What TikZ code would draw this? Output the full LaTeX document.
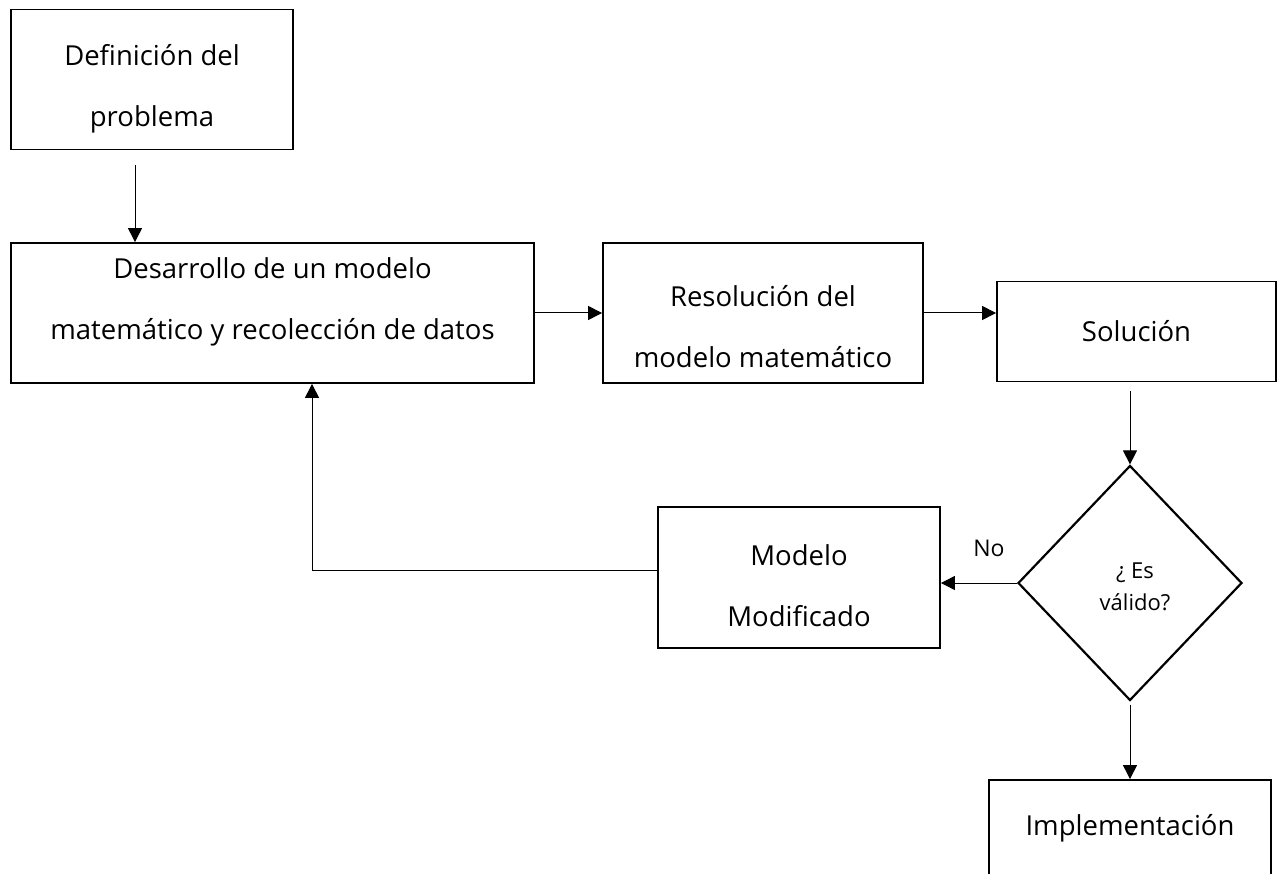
\documentclass[tikz,border=0pt]{standalone}
\usepackage{fontspec}
\setmainfont{Open Sans}
\usetikzlibrary{arrows.meta,shapes.geometric}
\begin{document}
\begin{tikzpicture}[x=1pt,y=-1pt,
  box/.style={draw,line width=1.8pt,inner sep=0pt},
  txt/.style={inner sep=0pt,align=center,font=\fontsize{27.5}{61}\selectfont},
  decision/.style={draw,diamond,line width=2.2pt,inner sep=0pt,
    minimum width=224pt,minimum height=235pt},
  dtxt/.style={inner sep=0pt,align=center,font=\fontsize{22}{32}\selectfont},
  arr/.style={line width=1pt,-{Triangle[length=14pt,width=14pt]}},
  lbl/.style={inner sep=0pt,font=\fontsize{23}{26}\selectfont}]
\useasboundingbox (0,0) rectangle (1278,874);

% process boxes
\node[box,minimum width=282pt,minimum height=140pt] (def) at (152,79.5) {};
\node[box,minimum width=523pt,minimum height=140pt] (des) at (272.5,313) {};
\node[box,minimum width=320pt,minimum height=140pt] (res) at (763,313) {};
\node[box,minimum width=279pt,minimum height=100pt] (sol) at (1136.5,331.5) {};
\node[decision] (val) at (1130,583) {};
\node[box,minimum width=282pt,minimum height=141pt] (mod) at (799,577.5) {};
\node[box,minimum width=282pt,minimum height=140pt] (imp) at (1130,850) {};

% box texts
\node[txt] (def-t) at ([yshift=-9pt]def.center) {Definición del\\problema};
\node[txt] (des-t) at ([yshift=11pt]des.center) {Desarrollo de un modelo\\matemático y recolección de datos};
\node[txt] (res-t) at ([yshift=-14pt]res.center) {Resolución del\\modelo matemático};
\node[txt] (sol-t) at (sol.center) {Solución};
\node[txt] (mod-t) at ([yshift=-8pt]mod.center) {Modelo\\Modificado};
\node[txt] (imp-t) at (1130,828) {Implementación};
\node[dtxt] (val-t) at ([xshift=5pt,yshift=-4pt]val.center) {¿ Es\\válido?};
\node[lbl] (no) at (989,548) {No};

% connectors
\draw[arr] ([xshift=-17pt,yshift=-15pt]def.south) -- ([xshift=-17pt]def.south |- des.north);
\draw[arr] (des.east) -- (res.west);
\draw[arr] (res.east) -- (sol.west |- res.east);
\draw[arr] ([yshift=-9pt]val.north |- sol.south) -- (val.north);
\draw[arr] ([yshift=-3pt]val.south) -- (imp.north);
\draw[arr] (val.west) -- (mod.east |- val.west);
\coordinate (up) at (312,570);
\draw[arr] ([yshift=7.5pt]mod.west) -- (up) -- (up |- des.south);
\end{tikzpicture}
\end{document}
